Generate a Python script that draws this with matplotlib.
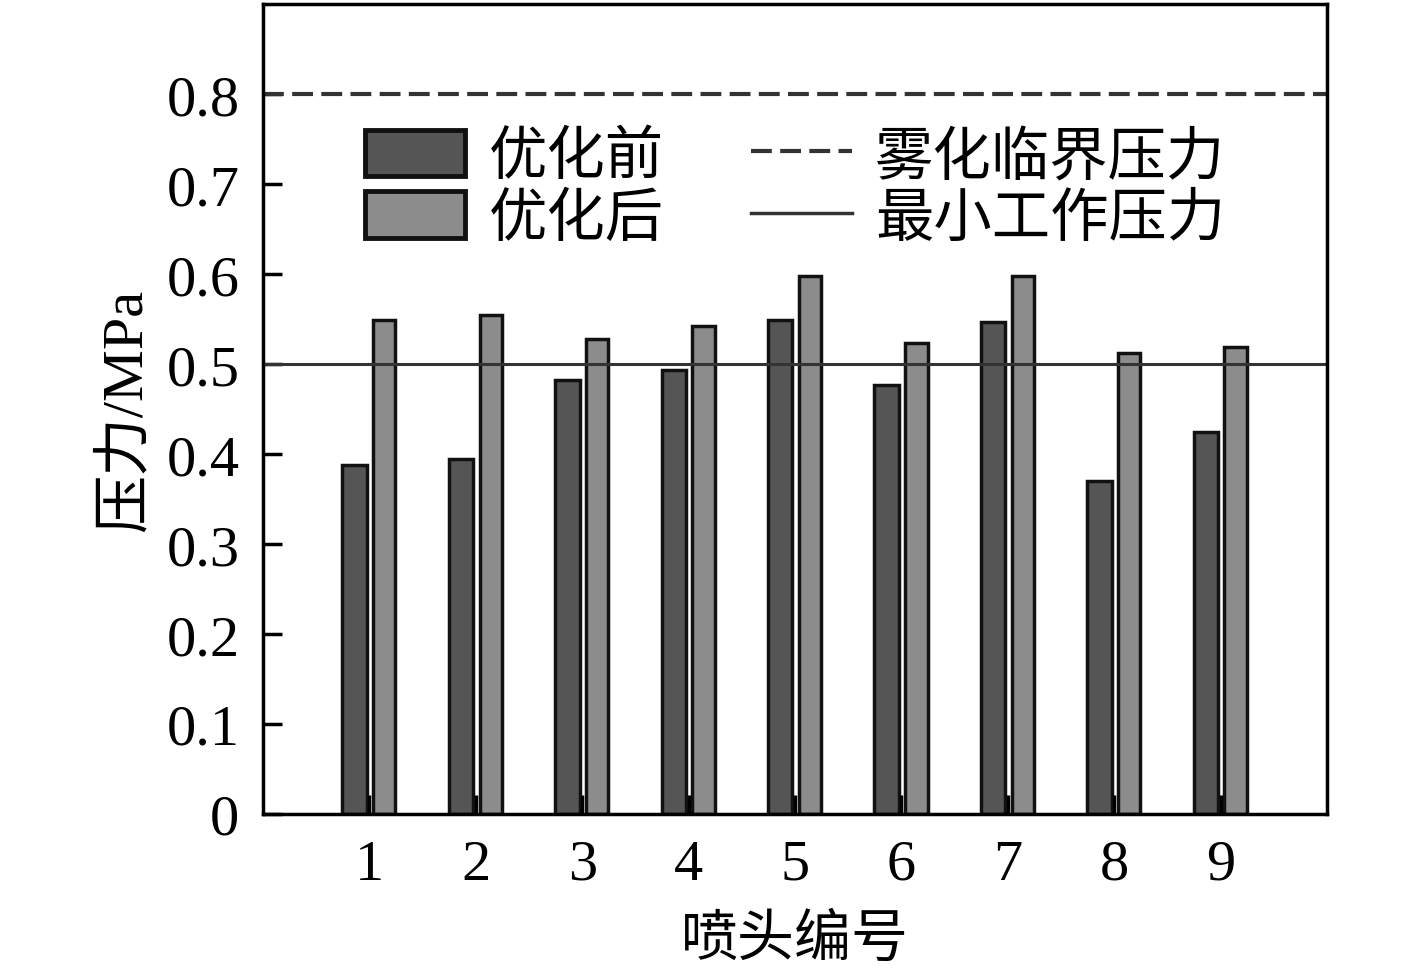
import numpy as np
import matplotlib
matplotlib.use("Agg")
import matplotlib.pyplot as plt
from matplotlib.lines import Line2D
from matplotlib.patches import Patch

# 数据
nozzles = [1, 2, 3, 4, 5, 6, 7, 8, 9]
before = [0.388, 0.395, 0.482, 0.493, 0.549, 0.477, 0.547, 0.370, 0.424]
after = [0.549, 0.555, 0.528, 0.542, 0.598, 0.523, 0.598, 0.512, 0.519]
critical_p = 0.8
min_p = 0.5

plt.rcParams['font.family'] = ['Liberation Serif', 'Noto Sans CJK SC']

fig = plt.figure(figsize=(14.17, 9.70), dpi=100)
ax = fig.add_axes([0.1856, 0.1598, 0.751, 0.835])

dash = (0, (5, 2))
x = np.array(nozzles)
ax.bar(x - 0.14, before, width=0.23, color='#555555', edgecolor='#111111', linewidth=2.5)
ax.bar(x + 0.14, after, width=0.21, color='#8c8c8c', edgecolor='#111111', linewidth=2.5)
ax.axhline(critical_p, color='#333333', linestyle=dash, linewidth=3)
ax.axhline(min_p, color='#333333', linewidth=2.2)

ax.set_xlim(0, 10)
ax.set_ylim(0, 0.9)
ax.set_xticks(nozzles)
ax.set_yticks(np.arange(0, 0.81, 0.1))
ax.set_yticklabels(['0', '0.1', '0.2', '0.3', '0.4', '0.5', '0.6', '0.7', '0.8'])
ax.tick_params(direction='in', length=14, width=2.5, labelsize=42)
ax.tick_params(axis='y', pad=17)
ax.tick_params(axis='x', pad=18)
for s in ax.spines.values():
    s.set_linewidth(2.5)

ax.set_xlabel('喷头编号', fontsize=41, labelpad=16)
ax.set_ylabel('压力/MPa', fontsize=42, labelpad=10)

handles = [
    Patch(facecolor='#555555', edgecolor='#111111', linewidth=3.5),
    Patch(facecolor='#8c8c8c', edgecolor='#111111', linewidth=3.5),
    Line2D([], [], color='#333333', linestyle=dash, linewidth=3),
    Line2D([], [], color='#333333', linewidth=2.5),
]
labels = ['优化前', '优化后', '雾化临界压力', '最小工作压力']
ax.legend(handles, labels, ncol=2, frameon=False, fontsize=42,
          loc='upper left', bbox_to_anchor=(0.096, 0.845),
          borderaxespad=0, borderpad=0,
          handlelength=1.72, handleheight=0.86, handletextpad=0.4,
          columnspacing=1.5, labelspacing=0.1)

fig.savefig('out.png', dpi=100)
